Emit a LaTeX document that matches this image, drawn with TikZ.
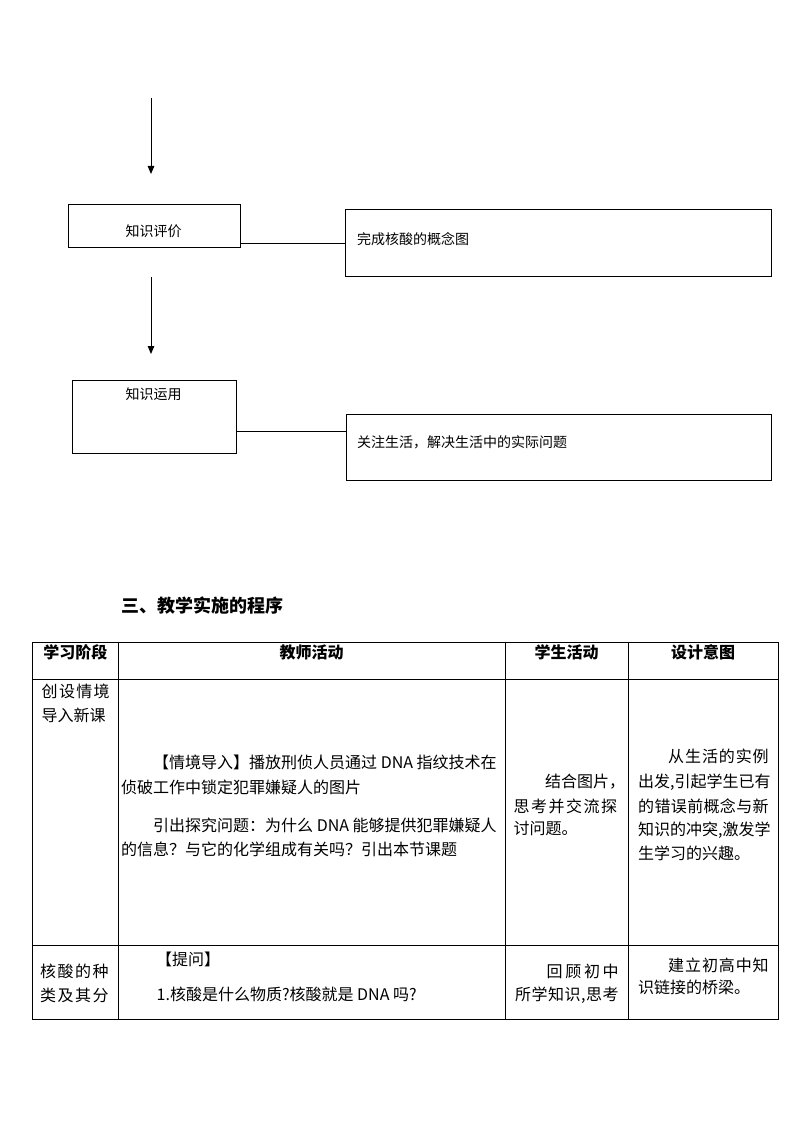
\documentclass[tikz,border=0pt]{standalone}
\usepackage{fontspec}
\setmainfont{Noto Sans CJK SC}
\usetikzlibrary{arrows.meta}
\makeatletter
\def\spr#1{\spr@a#1\spr@end}
\def\spr@end{SPR@END}
\def\spr@a#1{#1\futurelet\spr@next\spr@b}
\def\spr@b{\ifx\spr@next\spr@end\expandafter\@gobble\else\hfil\expandafter\spr@a\fi}
\makeatother
\newcommand\jl[2]{\hbox to #1{\spr{#2}}}
\tikzset{
  fbox/.style={draw, line width=1pt, inner sep=0pt},
  flowtxt/.style={inner sep=0pt, font=\fontsize{14}{14}\selectfont, text height=1.24em, text depth=0.1em},
  txt/.style={inner sep=0pt, anchor=west, font=\fontsize{16}{16}\selectfont, text height=1.24em, text depth=0.1em},
  head/.style={inner sep=0pt, font=\fontsize{16}{16}\selectfont\bfseries, text height=1.24em, text depth=0.1em},
  tline/.style={line width=1pt},
  flowarrow/.style={line width=1pt, -{Triangle[width=6.5pt,length=8pt]}},
  conn/.style={line width=1pt}
}
\begin{document}
\begin{tikzpicture}[x=1pt,y=-1pt]
\useasboundingbox[fill=white] (0,0) rectangle (794,1123);

% ---- flowchart ----
\coordinate (a1s) at (151,98);
\coordinate (a1e) at (151,174);
\draw[flowarrow] (a1s) -- (a1e);

\node[fbox, minimum width=172pt, minimum height=43pt] (b1) at (154.3,225.8) {};
\node[flowtxt] (t1) at (153.5,231) {知识评价};
\node[fbox, minimum width=426pt, minimum height=66pt] (b2) at (558,243) {};
\node[flowtxt, anchor=west] (t2) at (357,239) {完成核酸的概念图};
\draw[conn] (b1.east |- b2.west) -- (b2.west);

\coordinate (a2s) at (151,277);
\coordinate (a2e) at (151,354);
\draw[flowarrow] (a2s) -- (a2e);

\node[fbox, minimum width=164.4pt, minimum height=73.3pt] (b3) at (154.5,416.7) {};
\node[flowtxt] (t3) at (153.5,393.5) {知识运用};
\node[fbox, minimum width=425pt, minimum height=65.7pt] (b4) at (558.5,447.2) {};
\node[flowtxt, anchor=west] (t4) at (357,442) {关注生活，解决生活中的实际问题};
\coordinate (j2) at (300,431);
\draw[conn] (b3.east |- j2) -- (b4.west |- j2);

% ---- title ----
\node[inner sep=0pt, anchor=west, font=\fontsize{18}{18}\selectfont\bfseries, text height=1.24em, text depth=0.1em] (title) at (121.5,606.7) {三、教学实施的程序};

% ---- table ----
\draw[tline] (32.5,642) rectangle (778,1019.5);
\draw[tline] (32.5,679.3) -- (778,679.3);
\draw[tline] (32.5,945) -- (778,945);
\draw[tline] (118.3,642) -- (118.3,1019.5);
\draw[tline] (505,642) -- (505,1019.5);
\draw[tline] (628.3,642) -- (628.3,1019.5);

\node[head] (h1) at (75.4,653) {学习阶段};
\node[head] (h2) at (311.6,653) {教师活动};
\node[head] (h3) at (566.6,653) {学生活动};
\node[head] (h4) at (703.1,653) {设计意图};

\node[txt] (r1c1a) at (41.5,692) {\jl{68pt}{创设情境}};
\node[txt] (r1c1b) at (41.5,716) {导入新课};

\node[txt] (r1c2a) at (153,763) {【情境导入】播放刑侦人员通过 DNA 指纹技术在};
\node[txt] (r1c2b) at (121,788) {侦破工作中锁定犯罪嫌疑人的图片};
\node[txt] (r1c2c) at (153,826) {引出探究问题：为什么 DNA 能够提供犯罪嫌疑人};
\node[txt] (r1c2d) at (121,850) {的信息？与它的化学组成有关吗？引出本节课题};

\node[txt] (r1c3a) at (545,782) {结合图片，};
\node[txt] (r1c3b) at (513.5,806.7) {\jl{103.5pt}{思考并交流探}};
\node[txt] (r1c3c) at (513.5,829) {讨问题。};

\node[txt] (r1c4a) at (668,757) {\jl{100.5pt}{从生活的实例}};
\node[txt] (r1c4b) at (638,782) {\jl{130.5pt}{出发,引起学生已有}};
\node[txt] (r1c4c) at (638,806.7) {\jl{130.5pt}{的错误前概念与新}};
\node[txt] (r1c4d) at (638,830) {\jl{130.5pt}{知识的冲突,激发学}};
\node[txt] (r1c4e) at (638,853.5) {生学习的兴趣。};

\node[txt] (r2c1a) at (40,972) {\jl{68.5pt}{核酸的种}};
\node[txt] (r2c1b) at (40,996) {\jl{68.5pt}{类及其分}};

\node[txt] (r2c2a) at (156,960) {【提问】};
\node[txt] (r2c2b) at (156.5,994.5) {1.核酸是什么物质?核酸就是 DNA 吗?};

\node[txt] (r2c3a) at (546.5,971.5) {\jl{72pt}{回顾初中}};
\node[txt] (r2c3b) at (515,995) {\jl{103.5pt}{所学知识,思考}};

\node[txt] (r2c4a) at (668,966) {\jl{100.5pt}{建立初高中知}};
\node[txt] (r2c4b) at (638,988) {识链接的桥梁。};
\end{tikzpicture}
\end{document}
